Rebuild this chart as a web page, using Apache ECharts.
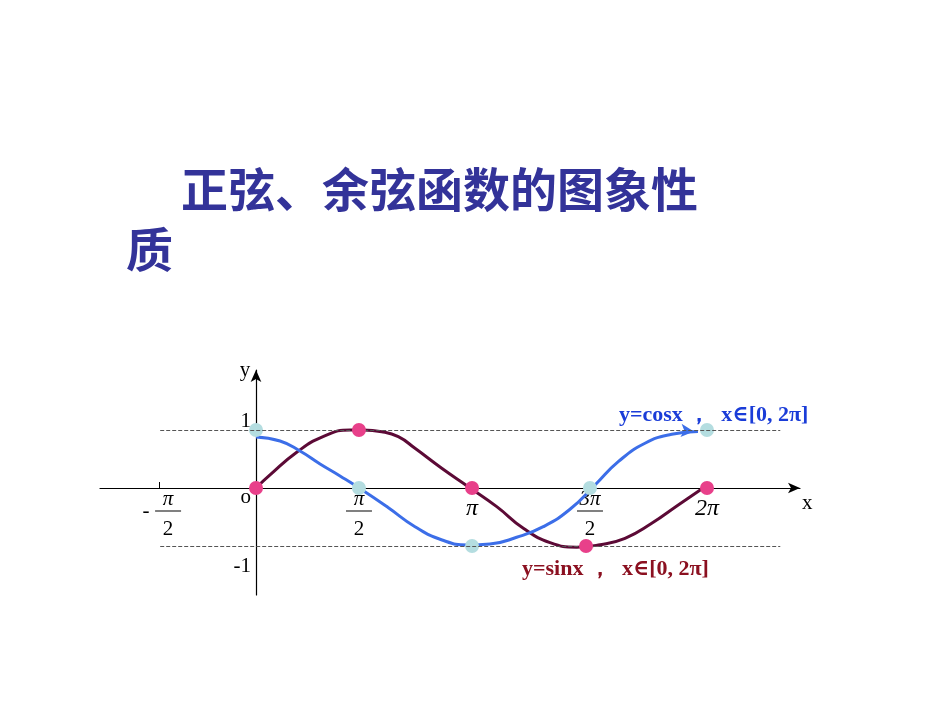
<!DOCTYPE html>
<html>
<head>
<meta charset="utf-8">
<script src="https://cdn.jsdelivr.net/npm/echarts@6/dist/echarts.min.js"></script>
<style>
html,body{margin:0;padding:0;background:#fff;}
#chart{width:950px;height:713px;}
</style>
</head>
<body>
<div id="chart"></div>
<script>
// x values in units of π/2, as read (the hand drawing is slightly non-uniform)
const cosKeyX = [0, 0.913, 1.916, 2.962, 4.0];       // 0, π/2, π, 3π/2, 2π
const cosKeyValues = [1, 0, -1, 0, 1];
const sinKeyX = [0, 0.913, 1.916, 2.927, 4.0];
const sinKeyValues = [0, 1, 0, -1, 0];
// traced curve points
const cosCurveX = [0, 0.213, 0.39, 0.568, 0.745, 0.922, 1.171, 1.41, 1.65, 1.88, 2.075, 2.312, 2.548, 2.785, 3.007, 3.213, 3.45, 3.687, 3.92];
const cosCurveY = [0.88, 0.81, 0.638, 0.414, 0.207, -0.009, -0.336, -0.667, -0.897, -0.983, -0.966, -0.85, -0.667, -0.367, 0.052, 0.453, 0.771, 0.926, 0.975];
const sinCurveX = [0, 0.124, 0.361, 0.594, 0.834, 0.949, 1.115, 1.262, 1.41, 1.647, 1.883, 2.135, 2.371, 2.608, 2.845, 3.036, 3.273, 3.51, 3.745, 3.982];
const sinCurveY = [0, 0.224, 0.616, 0.884, 1.0, 1.0, 0.971, 0.884, 0.684, 0.34, 0.022, -0.322, -0.695, -0.943, -1.02, -0.983, -0.867, -0.609, -0.293, 0.022];
const xTickValues = [-0.86, 0.913, 1.916, 2.962, 4.0];
const xTickNames = ['-π/2', 'π/2', 'π', '3π/2', '2π'];
const yTickValues = [-1, 0, 1];
const yTickNames = ['-1', 'o', '1'];
const guideLevels = [1, -1];
const guideRange = [-0.85, 4.65];
const titleText = '正弦、余弦函数的图象性';
const titleText2 = '质';
const cosLabel = 'y=cosx ，  x∈[0, 2π]';
const sinLabel = 'y=sinx ，  x∈[0, 2π]';

const chart = echarts.init(document.getElementById('chart'));

function pairs(xs, ys) { return xs.map((x, i) => [x, ys[i]]); }

const cosData = pairs(cosCurveX, cosCurveY).map((p, i, arr) =>
  i === arr.length - 1
    ? { value: p, symbol: 'arrow', symbolSize: [10, 13], symbolRotate: -95, symbolOffset: [-4, 0] }
    : { value: p, symbol: 'none' });

const serif = '"Liberation Serif", "DejaVu Serif", serif';
const cjk = '"Noto Sans CJK SC", sans-serif';

function nameOf(v, vals, names) {
  for (let i = 0; i < vals.length; i++) if (Math.abs(vals[i] - v) < 1e-6) return names[i];
  return '';
}

function xLabelFormatter(v) {
  const n = nameOf(v, xTickValues, xTickNames);
  switch (n) {
    case '-π/2': return '{sp| }{n|π}\n{m|-}{bar| }\n{sp| }{d|2}';
    case 'π/2': return '{n|π}\n{bar| }\n{d|2}';
    case '3π/2': return '{n|3π}\n{bar| }\n{d|2}';
    case 'π': return '{p|π}';
    case '2π': return '{p|2π}';
    default: return '';
  }
}

const option = {
  backgroundColor: '#fff',
  animation: false,
  title: [
    { text: titleText, left: 176, top: 161,
      textStyle: { color: '#333399', fontSize: 47, fontWeight: 'bold', fontFamily: cjk } },
    { text: titleText2, left: 121, top: 221,
      textStyle: { color: '#333399', fontSize: 47, fontWeight: 'bold', fontFamily: cjk } },
    { text: cosLabel, left: 614, top: 399,
      textStyle: { color: '#1a3cd8', fontSize: 22, fontWeight: 'bold', fontFamily: serif } },
    { text: sinLabel, left: 517, top: 553,
      textStyle: { color: '#8b1020', fontSize: 22, fontWeight: 'bold', fontFamily: serif } }
  ],
  grid: { left: 100, right: 150, top: 370, bottom: 118, containLabel: false },
  xAxis: {
    type: 'value',
    min: -1.384, max: 4.825,
    position: 'bottom', offset: -107,
    name: 'x', nameLocation: 'end', nameGap: 2,
    nameTextStyle: { fontFamily: serif, fontSize: 21, color: '#000', verticalAlign: 'top', padding: [5, 0, 0, 0] },
    splitLine: { show: false },
    axisLine: { onZero: false, lineStyle: { color: '#000', width: 1.2 }, symbol: ['none', 'arrow'], symbolSize: [8, 12] },
    axisTick: { show: true, inside: true, length: 6, lineStyle: { color: '#000' }, customValues: xTickValues.slice(0, 4) },
    axisLabel: {
      customValues: xTickValues,
      formatter: xLabelFormatter,
      margin: 2,
      color: '#000',
      fontFamily: serif,
      rich: {
        n: { fontFamily: serif, fontStyle: 'italic', fontSize: 21, lineHeight: 18, width: 26, align: 'center' },
        d: { fontFamily: serif, fontSize: 21, lineHeight: 30, width: 26, align: 'center' },
        bar: { width: 26, height: 1, backgroundColor: '#000', lineHeight: 6, align: 'center' },
        p: { fontFamily: serif, fontStyle: 'italic', fontSize: 24, lineHeight: 38, align: 'center' },
        m: { fontFamily: serif, fontSize: 21, width: 18, lineHeight: 6, align: 'center' },
        sp: { width: 18, fontSize: 4, lineHeight: 6 }
      }
    }
  },
  yAxis: {
    type: 'value',
    min: -1.845, max: 2.034,
    position: 'left', offset: -156,
    name: 'y', nameLocation: 'end', nameGap: 0,
    nameTextStyle: { fontFamily: serif, fontSize: 21, color: '#000', padding: [0, 22, 0, 0], verticalAlign: 'middle' },
    splitLine: { show: false },
    axisLine: { onZero: false, lineStyle: { color: '#000', width: 1.2 }, symbol: ['none', 'arrow'], symbolSize: [8, 12] },
    axisTick: { show: false },
    axisLabel: {
      customValues: yTickValues,
      formatter: function (v) {
        const n = nameOf(v, yTickValues, yTickNames);
        if (n === '1') return '{u|1}';
        if (n === '-1') return '{l|-1}';
        if (n === 'o') return '{o|o}';
        return '';
      },
      margin: 5,
      color: '#000',
      rich: {
        u: { fontFamily: serif, fontSize: 21, padding: [0, 0, 16, 0] },
        l: { fontFamily: serif, fontSize: 21, padding: [40, 0, 0, 0] },
        o: { fontFamily: serif, fontSize: 21, padding: [20, 0, 0, 0] }
      }
    }
  },
  series: [
    {
      name: 'guides', type: 'line', data: [], silent: true,
      markLine: {
        silent: true, symbol: 'none', label: { show: false },
        lineStyle: { type: 'dashed', color: '#555', width: 1 },
        data: guideLevels.map(g => [{ coord: [guideRange[0], g] }, { coord: [guideRange[1], g] }])
      }
    },
    {
      name: 'sin', type: 'line', data: pairs(sinCurveX, sinCurveY), smooth: 0.5,
      symbol: 'none', lineStyle: { color: '#5c0a36', width: 3 }, z: 3
    },
    {
      name: 'cos', type: 'line', data: cosData, smooth: 0.5, showSymbol: true,
      itemStyle: { color: '#3c6ee8' },
      lineStyle: { color: '#3c6ee8', width: 3 }, z: 3
    },
    {
      name: 'cosPts', type: 'scatter', data: pairs(cosKeyX, cosKeyValues), symbolSize: 14,
      itemStyle: { color: '#b4dde0', opacity: 1 }, z: 4
    },
    {
      name: 'sinPts', type: 'scatter', data: pairs(sinKeyX, sinKeyValues), symbolSize: 14,
      itemStyle: { color: '#e8408a', opacity: 1 }, z: 5
    }
  ]
};
chart.setOption(option);
</script>
</body>
</html>
